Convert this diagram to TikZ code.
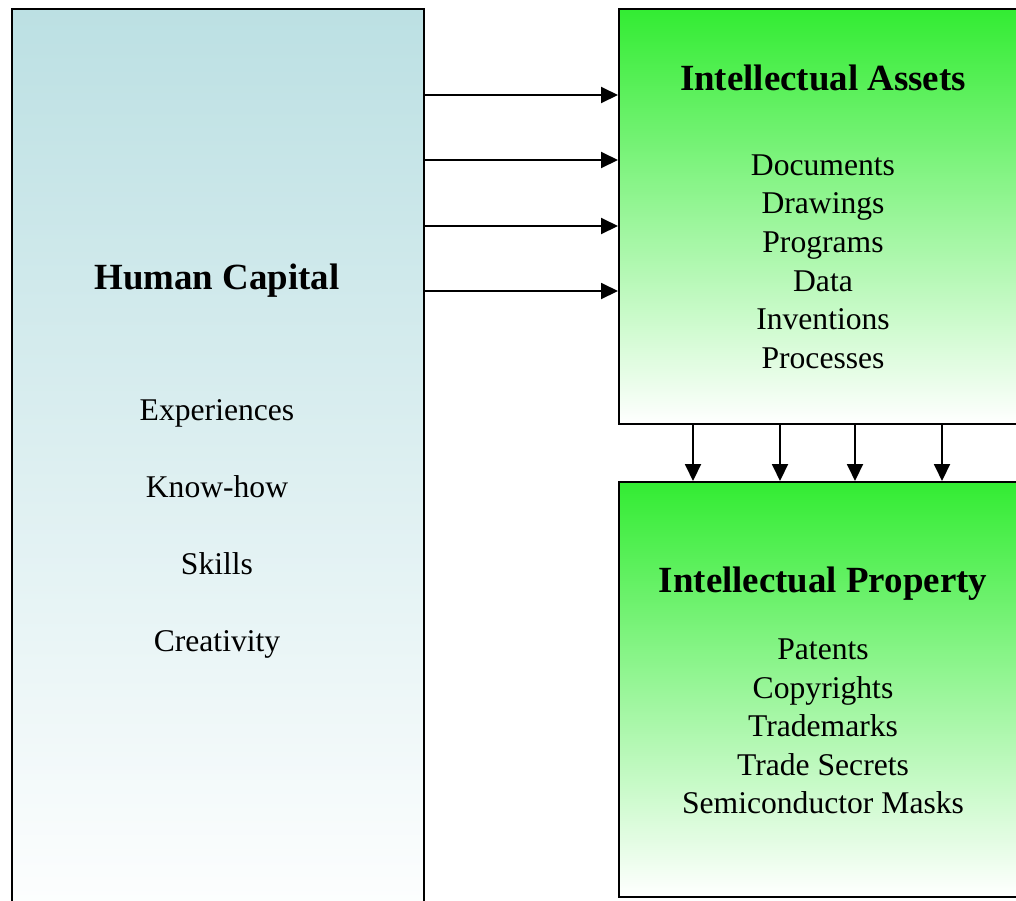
\documentclass[tikz,border=0pt]{standalone}
\usepackage{fontspec}
\setmainfont{Liberation Serif}
\usetikzlibrary{arrows.meta, positioning, calc}
\definecolor{capblue}{RGB}{188,224,227}
\definecolor{assetgreen}{RGB}{51,236,51}

\begin{document}
\begin{tikzpicture}[x=0.02cm, y=-0.02cm,
  box/.style={draw=black, line width=1.2pt, inner sep=0pt, anchor=north west},
  title/.style={font=\fontsize{21}{25}\selectfont\bfseries, text height=0.7em, text depth=0.2em},
  item/.style={font=\fontsize{18}{21.8}\selectfont, text height=0.7em, text depth=0.2em},
  arr/.style={-{Triangle[length=3.4mm,width=3.2mm]}, line width=1.1pt}]
  \useasboundingbox (0,0) rectangle (1016,900);
  \clip (0,0) rectangle (1016,900);
  % boxes
  \node[box, top color=capblue, bottom color=white, minimum width=8.24cm, minimum height=18.6cm] (hc) at (11,8) {};
  \node[box, top color=assetgreen, bottom color=white, minimum width=8.4cm, minimum height=8.3cm] (ia) at (618,8) {};
  \node[box, top color=assetgreen, bottom color=white, minimum width=8.4cm, minimum height=8.3cm] (ip) at (618,481) {};
  % texts
  \node[title] (hctitle) at (217,285) {Human Capital};
  \foreach \t [count=\i] in {Experiences,Know-how,Skills,Creativity}
    \node[item] (hcitem\i) at (217,339+77*\i) {\t};
  \node[title] (iatitle) at (823,86) {Intellectual Assets};
  \foreach \t [count=\i] in {Documents,Drawings,Programs,Data,Inventions,Processes}
    \node[item] (iaitem\i) at (823,132.4+38.6*\i) {\t};
  \node[title] (iptitle) at (823,588) {Intellectual Property};
  \foreach \t [count=\i] in {Patents,Copyrights,Trademarks,Trade Secrets,Semiconductor Masks}
    \node[item] (ipitem\i) at (823,616.5+38.6*\i) {\t};
  % arrows
  \foreach \y in {87,152,218,283}
    \draw[arr] ($(hc.north east)+(0,\y)$) -- ($(ia.north west)+(0,\y)$);
  \foreach \x in {75,162,237,324}
    \draw[arr] ($(ia.south west)+(\x,0)$) -- ($(ip.north west)+(\x,0)$);
\end{tikzpicture}
\end{document}
